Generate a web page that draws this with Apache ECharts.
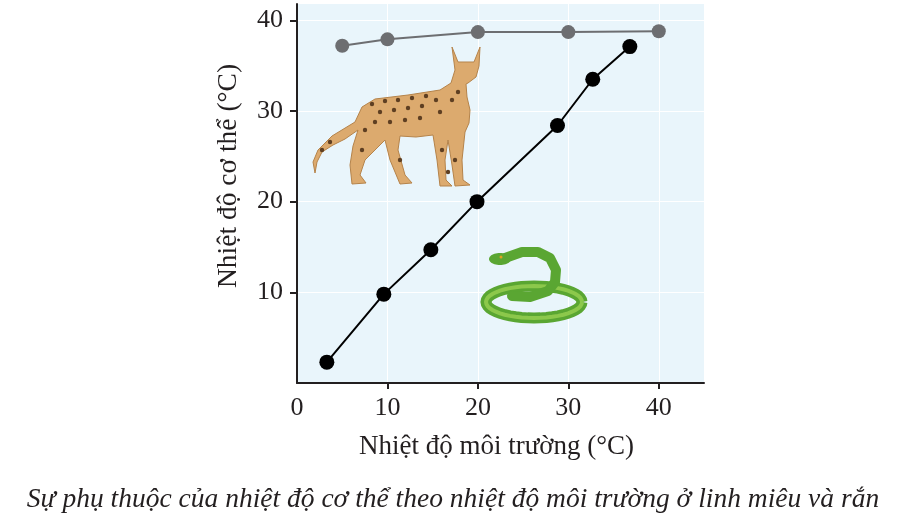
<!DOCTYPE html>
<html>
<head>
<meta charset="utf-8">
<script src="https://cdn.jsdelivr.net/npm/echarts@6/dist/echarts.min.js"></script>
<style>
html, body { margin: 0; padding: 0; background: #fff; }
#chart { width: 905px; height: 518px; }
</style>
</head>
<body>
<div id="chart"></div>
<script>
// linh miêu (đẳng nhiệt) va rắn (biến nhiệt)
var lynxX = [5, 10, 20, 30, 40];
var lynxY = [37.2, 37.9, 38.7, 38.7, 38.8];
var snakeX = [3.3, 9.6, 14.8, 19.9, 28.8, 32.7, 36.8];
var snakeY = [2.3, 9.8, 14.7, 20.0, 28.4, 33.5, 37.1];
var xTicks = [0, 10, 20, 30, 40];
var yTicks = [10, 20, 30, 40];

function pairs(xs, ys) {
	var out = [];
	for (var i = 0; i < xs.length; i++) out.push([xs[i], ys[i]]);
	return out;
}

// vòng elip cho hình con rắn
function ring(cx, cy, rx, ry) {
	var pts = [];
	for (var i = 0; i <= 48; i++) {
		var a = i / 48 * Math.PI * 2;
		pts.push([cx + rx * Math.cos(a), cy + ry * Math.sin(a)]);
	}
	return pts;
}

var font = 'Liberation Serif';
var ink = '#231f20';

var lynxShape = [
	[452, 47], [458, 62], [474, 62], [480, 47], [479, 66], [476, 77], [468, 83], [466, 84], [467, 97], [470, 110],
	[469, 123], [465, 132], [462, 160], [463, 180], [470, 185], [455, 186], [452, 165], [448, 140], [445, 160],
	[446, 180], [452, 186], [440, 186], [437, 160], [433, 135], [416, 137], [400, 136], [398, 150], [405, 175],
	[412, 183], [400, 184], [390, 160], [385, 140], [375, 150], [365, 160], [360, 175], [366, 183], [352, 184],
	[350, 165], [353, 146], [358, 130], [345, 139], [333, 145], [322, 152], [317, 162], [315, 173], [313, 162],
	[318, 150], [332, 136], [355, 122], [362, 107], [375, 99], [408, 95], [440, 90], [451, 83], [455, 70]
];
var lynxSpots = [
	[372, 104], [385, 101], [398, 100], [412, 98], [426, 96], [380, 112], [394, 110], [408, 108], [422, 106],
	[436, 100], [375, 122], [390, 122], [405, 120], [420, 118], [440, 112], [452, 100], [458, 92],
	[365, 130], [330, 142], [322, 150], [442, 150], [455, 160], [448, 172], [362, 150], [400, 160]
];

var chart = echarts.init(document.getElementById('chart'));
var option = {
	animation: false,
	grid: {
		left: 297, right: 201, top: 4, bottom: 135,
		show: true, backgroundColor: '#e9f5fb', borderWidth: 0
	},
	xAxis: {
		type: 'value', min: 0, max: 45, interval: 5,
		name: 'Nhiệt độ môi trường (°C)',
		nameLocation: 'middle', nameGap: 50,
		nameTextStyle: { fontFamily: font, fontSize: 27, color: ink, padding: [0, 8, 0, 0] },
		axisLine: { lineStyle: { color: ink, width: 2 } },
		axisTick: { customValues: [10, 20, 30, 40], length: 6, lineStyle: { color: ink, width: 2 } },
		axisLabel: { customValues: xTicks, fontFamily: font, fontSize: 26, color: ink, margin: 12 },
		splitLine: { lineStyle: { color: '#ffffff', width: 1 } }
	},
	yAxis: {
		type: 'value', min: 0, max: 41.8, interval: 5,
		axisLine: { lineStyle: { color: ink, width: 2 } },
		axisTick: { customValues: yTicks, length: 7, lineStyle: { color: ink, width: 2 } },
		axisLabel: { customValues: yTicks, fontFamily: font, fontSize: 26, color: ink, margin: 14 },
		splitLine: { lineStyle: { color: '#ffffff', width: 1 } }
	},
	series: [
		{
			name: 'Linh miêu', type: 'line', data: pairs(lynxX, lynxY),
			symbol: 'circle', symbolSize: 14,
			lineStyle: { color: '#6d6e71', width: 2 },
			itemStyle: { color: '#6d6e71' }
		},
		{
			name: 'Rắn', type: 'line', data: pairs(snakeX, snakeY),
			symbol: 'circle', symbolSize: 15,
			lineStyle: { color: '#000000', width: 2 },
			itemStyle: { color: '#000000' }
		}
	],
	graphic: [
		// tên trục tung
		{
			type: 'text', x: 229, y: 176, rotation: Math.PI / 2,
			style: {
				text: 'Nhiệt độ cơ thể (°C)', fontFamily: font, fontSize: 27.5, fill: ink,
				align: 'center', verticalAlign: 'middle'
			}
		},
		// linh miêu (hình minh họa)
		{
			type: 'polygon', z: 5,
			shape: { points: lynxShape },
			style: { fill: '#dcaa6e', stroke: '#b5834a', lineWidth: 1 }
		},
		{
			type: 'group', z: 6,
			children: lynxSpots.map(function (p) {
				return { type: 'circle', z: 6, shape: { cx: p[0], cy: p[1], r: 2.2 }, style: { fill: '#5e3f22' } };
			})
		},
		// rắn (hình minh họa)
		{
			type: 'polyline', z: 5,
			shape: { points: ring(534, 302, 48, 16) },
			style: { stroke: '#5aa632', lineWidth: 11 }
		},
		{
			type: 'polyline', z: 5,
			shape: { points: ring(534, 302, 48, 16) },
			style: { stroke: '#8cc84b', lineWidth: 4 }
		},
		{
			type: 'polyline', z: 6,
			shape: { points: [[505, 258], [522, 252], [538, 252], [550, 258], [556, 270], [555, 282], [548, 291], [530, 297], [512, 296]] },
			style: { stroke: '#5aa632', lineWidth: 10, lineCap: 'round', lineJoin: 'round' }
		},
		{
			type: 'polygon', z: 7,
			shape: { points: ring(500, 259, 11, 6) },
			style: { fill: '#5aa632' }
		},
		{
			type: 'circle', z: 8,
			shape: { cx: 501, cy: 257, r: 1.5 },
			style: { fill: '#e0a020' }
		},
		// chú thích
		{
			type: 'text', x: 453, y: 500,
			style: {
				text: 'Sự phụ thuộc của nhiệt độ cơ thể theo nhiệt độ môi trường ở linh miêu và rắn',
				fontFamily: font, fontStyle: 'italic', fontSize: 27.5, fill: ink,
				align: 'center', verticalAlign: 'middle'
			}
		}
	]
};
chart.setOption(option);
</script>
</body>
</html>
